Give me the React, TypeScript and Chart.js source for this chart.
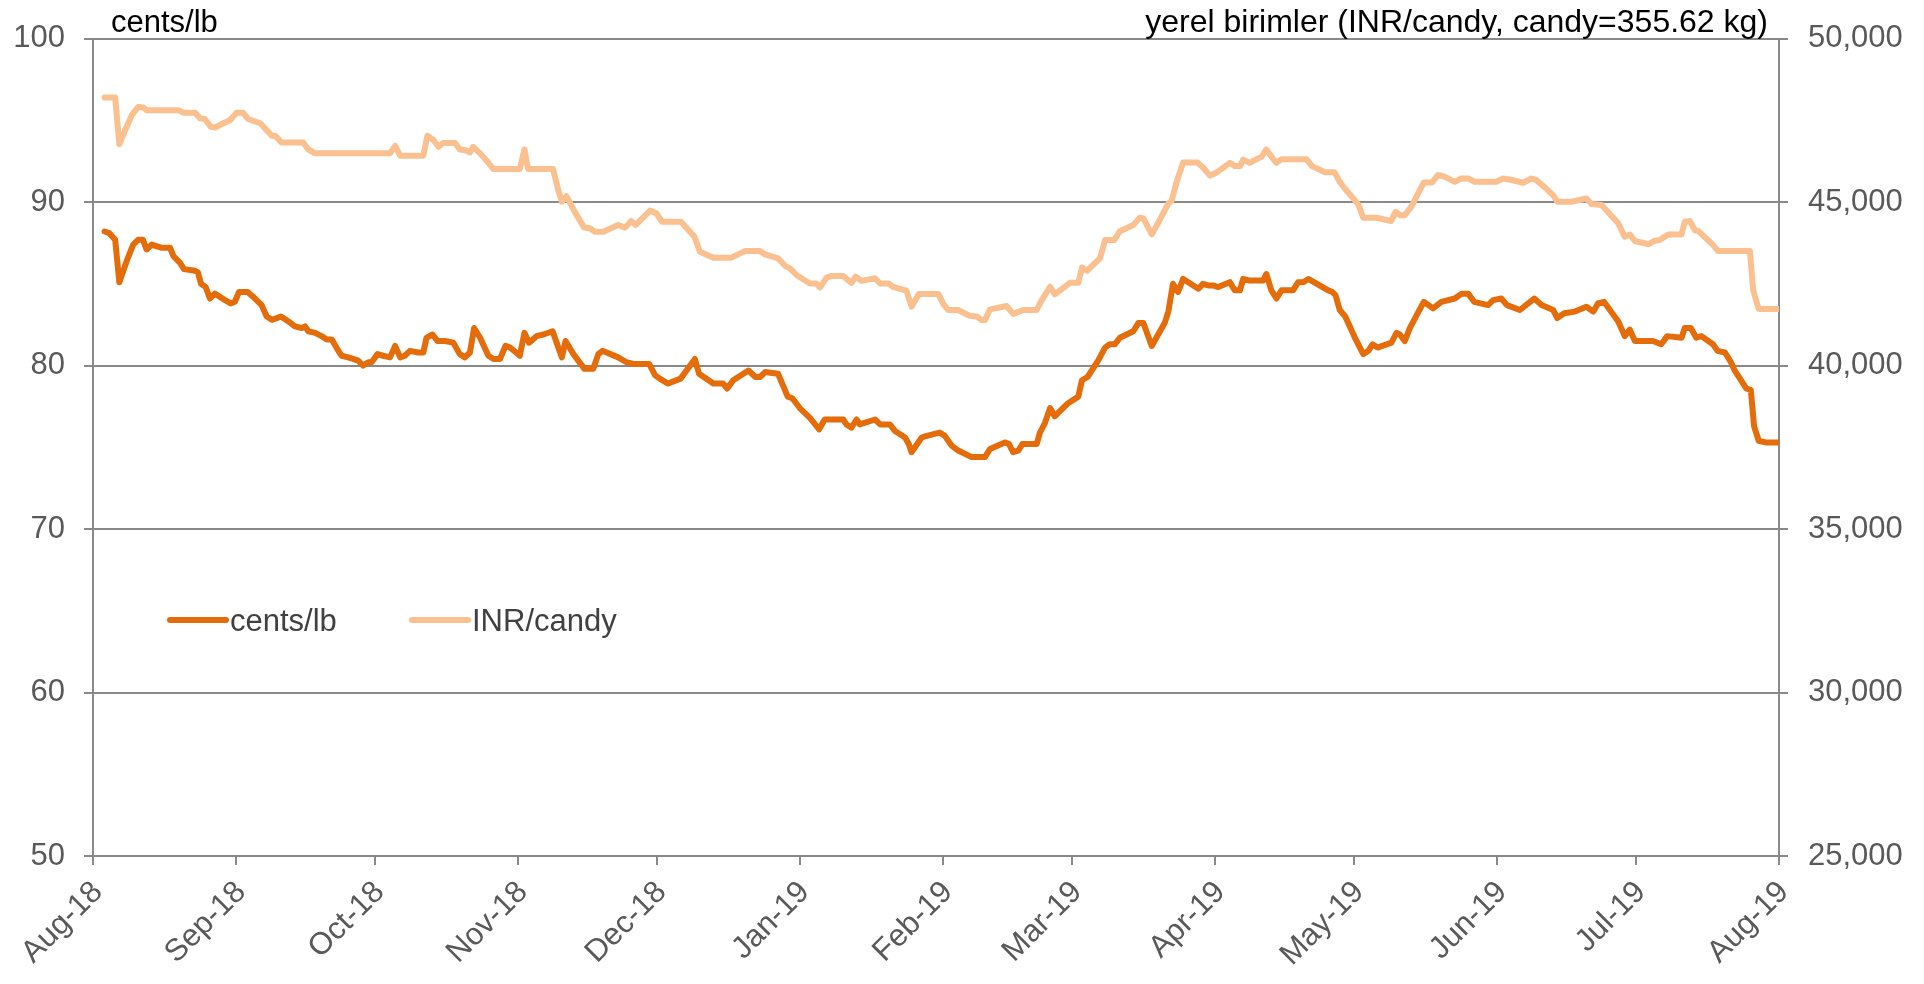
import React, { useEffect, useRef } from "react";
import { Chart, registerables } from "chart.js";

Chart.register(...registerables);

// ---- Text ----
const leftTitle = "cents/lb";
const rightTitle = "yerel birimler (INR/candy, candy=355.62 kg)";
const centsLabel = "cents/lb";
const inrLabel = "INR/candy";

// ---- X axis: month ticks (day offset from 1 Aug 2018) ----
const monthLabels = ["Aug-18", "Sep-18", "Oct-18", "Nov-18", "Dec-18", "Jan-19", "Feb-19", "Mar-19", "Apr-19", "May-19", "Jun-19", "Jul-19", "Aug-19"];
const monthDays = [0, 31, 61, 92, 122, 153, 184, 212, 243, 273, 304, 334, 365];

// ---- Left axis ticks ----
const leftMin = 50;
const leftMax = 100;
const leftStep = 10;
// ---- Right axis ticks ----
const rightMin = 25000;
const rightMax = 50000;
const rightStep = 5000;

// ---- cents/lb series (day offset, value) ----
const centsDays = [
  2.5, 3.5, 4.8, 5.7, 7.3, 8.7, 9.8, 10.8, 11.6, 12.7, 14.9, 16.7, 17.4, 18.8, 19.7, 22.1, 22.7, 23.4, 24.4, 25.3,
  26.4, 28.6, 29.8, 30.7, 31.6, 33.5, 34.7, 36.5, 37.6, 38.7, 39.8, 40.7, 42.3, 43.7, 45.2, 45.9, 46.6, 48.1, 49.5, 50.6,
  51.7, 52.7, 53.8, 55.3, 57.4, 58.5, 59.6, 60.3, 61.6, 62.8, 64.3, 65.4, 66.5, 67.5, 68.6, 70.4, 71.5, 72.2, 73.5, 74.6,
  76.2, 78.0, 79.4, 80.5, 81.6, 82.5, 83.8, 85.6, 86.7, 88.1, 89.3, 90.3, 92.4, 93.4, 94.4, 96.0, 97.5, 99.5, 101.5, 102.3,
  104.0, 106.4, 108.3, 109.4, 110.3, 113.7, 115.5, 117.0, 118.0, 120.4, 121.7, 122.7, 124.5, 127.2, 130.3, 131.2, 134.3, 136.4, 137.3, 138.6,
  141.9, 143.4, 144.4, 145.5, 148.3, 150.4, 151.4, 153.0, 155.2, 157.2, 158.4, 160.3, 162.4, 163.1, 164.2, 165.3, 166.0, 169.3, 170.4, 172.5,
  173.6, 175.8, 176.6, 177.2, 179.4, 180.5, 183.3, 184.4, 185.9, 187.3, 190.2, 193.1, 194.2, 197.4, 198.3, 199.2, 200.3, 201.2, 204.3, 205.0,
  206.1, 207.2, 208.2, 211.1, 213.3, 214.1, 215.3, 217.6, 219.1, 220.1, 221.2, 222.3, 225.2, 226.3, 227.4, 229.2, 232.0, 232.8, 233.8, 234.9,
  236.0, 239.3, 240.3, 241.4, 242.5, 243.6, 246.1, 247.2, 248.3, 249.0, 250.4, 253.3, 254.0, 255.1, 256.2, 257.3, 259.8, 260.9, 262.0, 263.1,
  267.4, 268.3, 269.0, 269.9, 271.1, 273.2, 275.0, 276.1, 277.0, 278.1, 281.1, 282.2, 282.9, 284.0, 285.1, 288.1, 290.1, 291.9, 294.8, 296.3,
  297.7, 299.0, 302.0, 303.1, 304.9, 306.1, 308.9, 312.0, 313.6, 316.1, 317.0, 318.5, 320.8, 323.3, 324.8, 325.8, 327.1, 330.2, 331.6, 332.7,
  333.8, 337.7, 339.5, 340.8, 343.9, 344.6, 345.9, 347.1, 348.2, 350.7, 351.7, 353.3, 354.6, 355.4, 357.0, 357.9, 358.9, 359.6, 360.6, 362.1,
  365.0,
];
const centsValues = [
  88.2, 88.1, 87.7, 85.1, 86.4, 87.4, 87.7, 87.7, 87.1, 87.4, 87.2, 87.2, 86.7, 86.3, 85.9, 85.8, 85.7, 85.0, 84.8, 84.1,
  84.4, 84.0, 83.8, 83.9, 84.5, 84.5, 84.2, 83.7, 83.0, 82.8, 82.9, 83.0, 82.7, 82.4, 82.3, 82.4, 82.1, 82.0, 81.8, 81.6,
  81.6, 81.1, 80.6, 80.5, 80.3, 80.0, 80.2, 80.2, 80.7, 80.6, 80.5, 81.2, 80.5, 80.6, 80.9, 80.8, 80.8, 81.7, 81.9, 81.5,
  81.5, 81.4, 80.7, 80.5, 80.8, 82.3, 81.7, 80.6, 80.4, 80.4, 81.2, 81.1, 80.6, 82.0, 81.4, 81.8, 81.9, 82.1, 80.5, 81.5,
  80.7, 79.8, 79.8, 80.7, 80.9, 80.5, 80.2, 80.1, 80.1, 80.1, 79.4, 79.2, 78.9, 79.2, 80.4, 79.5, 78.9, 78.9, 78.6, 79.1,
  79.7, 79.3, 79.3, 79.6, 79.5, 78.1, 78.0, 77.4, 76.8, 76.1, 76.7, 76.7, 76.7, 76.4, 76.2, 76.7, 76.4, 76.7, 76.4, 76.4,
  76.0, 75.6, 75.2, 74.7, 75.6, 75.7, 75.9, 75.7, 75.1, 74.8, 74.4, 74.4, 74.9, 75.3, 75.2, 74.7, 74.8, 75.2, 75.2, 75.9,
  76.5, 77.4, 76.9, 77.7, 78.1, 79.1, 79.3, 80.3, 81.1, 81.3, 81.3, 81.7, 82.1, 82.6, 82.6, 81.2, 82.6, 83.3, 85.0, 84.5,
  85.3, 84.7, 85.0, 84.9, 84.9, 84.8, 85.1, 84.6, 84.6, 85.3, 85.2, 85.2, 85.6, 84.6, 84.1, 84.6, 84.6, 85.1, 85.1, 85.3,
  84.6, 84.5, 84.3, 83.4, 83.0, 81.7, 80.7, 80.9, 81.3, 81.1, 81.4, 82.0, 81.9, 81.5, 82.3, 83.9, 83.5, 83.9, 84.1, 84.4,
  84.4, 83.9, 83.7, 84.0, 84.1, 83.7, 83.4, 84.1, 83.7, 83.4, 82.9, 83.2, 83.3, 83.6, 83.3, 83.8, 83.9, 82.7, 81.8, 82.2,
  81.5, 81.5, 81.3, 81.8, 81.7, 82.3, 82.3, 81.7, 81.8, 81.3, 80.9, 80.8, 80.2, 79.7, 79.0, 78.6, 78.5, 76.3, 75.4, 75.3,
  75.3,
];

// ---- INR/candy series (day offset, value) ----
const inrDays = [
  2.5, 4.8, 5.7, 6.9, 8.4, 9.8, 10.9, 11.6, 18.5, 19.6, 22.1, 23.2, 24.2, 25.5, 26.4, 29.7, 31.1, 32.5, 33.6, 36.2,
  37.6, 38.7, 39.5, 40.8, 45.5, 46.6, 48.1, 64.3, 65.4, 66.5, 71.5, 72.4, 73.7, 74.8, 75.8, 78.4, 79.4, 80.5, 81.6, 82.3,
  83.8, 85.6, 86.7, 92.4, 93.4, 94.2, 99.6, 100.7, 101.5, 102.5, 104.3, 106.3, 107.6, 108.7, 110.5, 113.7, 115.2, 116.5, 117.5, 120.6,
  122.0, 123.2, 127.3, 128.7, 130.2, 131.4, 134.3, 138.2, 141.1, 144.4, 145.5, 148.3, 149.8, 150.9, 152.3, 155.2, 156.6, 157.4, 158.8, 159.9,
  162.4, 164.2, 165.1, 166.4, 169.3, 170.4, 172.2, 173.2, 176.1, 177.2, 178.8, 183.0, 184.1, 185.1, 187.3, 189.8, 191.3, 192.4, 193.1, 194.2,
  197.8, 199.2, 201.4, 204.3, 205.3, 207.2, 208.2, 211.5, 213.3, 214.1, 215.2, 218.0, 219.1, 221.1, 222.3, 225.2, 226.6, 227.4, 229.2, 231.0,
  232.8, 233.5, 234.6, 236.0, 239.1, 240.3, 241.8, 243.2, 246.1, 247.2, 248.3, 249.0, 250.4, 253.0, 254.0, 255.1, 256.2, 257.3, 262.7, 263.9,
  266.7, 268.8, 269.9, 271.1, 272.4, 273.9, 275.0, 277.9, 281.0, 282.0, 282.9, 284.0, 285.4, 288.1, 289.9, 291.2, 292.7, 294.8, 296.1, 297.8,
  299.1, 303.8, 305.3, 306.7, 309.6, 311.4, 312.5, 314.3, 316.1, 317.0, 320.1, 323.3, 324.4, 326.6, 328.7, 330.2, 331.6, 332.7, 333.8, 336.7,
  338.1, 339.2, 341.0, 343.9, 344.6, 345.7, 346.8, 347.5, 349.6, 350.7, 351.8, 358.7, 359.4, 360.6, 365.0,
];
const inrValues = [
  48200, 48200, 46770, 47180, 47660, 47910, 47890, 47810, 47810, 47730, 47730, 47560, 47540, 47300, 47280, 47510, 47730, 47730, 47540, 47410,
  47200, 47030, 47020, 46820, 46820, 46610, 46490, 46490, 46720, 46420, 46420, 47030, 46900, 46690, 46810, 46810, 46610, 46590, 46520, 46690,
  46490, 46200, 46010, 46010, 46610, 46010, 46010, 45370, 45010, 45180, 44700, 44220, 44200, 44090, 44090, 44300, 44220, 44420, 44300, 44740,
  44650, 44400, 44400, 44180, 43940, 43480, 43300, 43300, 43500, 43500, 43400, 43280, 43050, 42970, 42770, 42510, 42510, 42390, 42690, 42740,
  42740, 42530, 42720, 42590, 42670, 42510, 42510, 42410, 42290, 41800, 42190, 42190, 41880, 41700, 41700, 41520, 41500, 41390, 41390, 41720,
  41820, 41580, 41700, 41700, 41980, 42410, 42180, 42530, 42530, 43000, 42900, 43280, 43840, 43840, 44110, 44300, 44520, 44500, 44010, 44470,
  44960, 45030, 45620, 46210, 46210, 46060, 45810, 45900, 46200, 46100, 46100, 46300, 46200, 46390, 46610, 46390, 46200, 46310, 46310, 46100,
  45910, 45910, 45620, 45400, 45180, 44930, 44520, 44520, 44420, 44700, 44600, 44600, 44860, 45600, 45600, 45830, 45770, 45620, 45720, 45720,
  45620, 45620, 45720, 45690, 45590, 45720, 45670, 45450, 45210, 45010, 45010, 45110, 44940, 44910, 44580, 44350, 43940, 44010, 43810, 43710,
  43820, 43840, 44010, 44010, 44400, 44420, 44140, 44120, 43840, 43690, 43500, 43500, 42310, 41730, 41730,
];

const FONT = "'Liberation Sans', Arial, Helvetica, sans-serif";
const DARK = "#E46C0A";
const LIGHT = "#FAC090";
const GRID = "#898989";
const TICK_COLOR = "#595959";

export default function App() {
  const ref = useRef<HTMLCanvasElement | null>(null);

  useEffect(() => {
    if (!ref.current) return;

    const titlesPlugin = {
      id: "cornerTitles",
      afterDraw(chart: any) {
        const { ctx, chartArea } = chart;
        ctx.save();
        ctx.fillStyle = "#000000";
        ctx.textBaseline = "alphabetic";
        ctx.font = `31px ${FONT}`;
        ctx.textAlign = "left";
        ctx.fillText(leftTitle, chartArea.left + 18, 32);
        ctx.font = `32px ${FONT}`;
        ctx.textAlign = "right";
        ctx.fillText(rightTitle, chartArea.right - 11, 32);
        ctx.restore();
      },
    };

    const legendPlugin = {
      id: "insideLegend",
      afterDraw(chart: any) {
        const { ctx, chartArea } = chart;
        const offsets = [77, 319];
        const y = 620;
        ctx.save();
        chart.data.datasets.forEach((ds: any, i: number) => {
          const x0 = chartArea.left + offsets[i];
          ctx.strokeStyle = ds.borderColor;
          ctx.lineWidth = 6;
          ctx.lineCap = "round";
          ctx.beginPath();
          ctx.moveTo(x0, y);
          ctx.lineTo(x0 + 56, y);
          ctx.stroke();
          ctx.fillStyle = "#404040";
          ctx.font = `31px ${FONT}`;
          ctx.textAlign = "left";
          ctx.textBaseline = "alphabetic";
          ctx.fillText(ds.label, x0 + 60, y + 11);
        });
        ctx.restore();
      },
    };

    const chart = new Chart(ref.current, {
      type: "line",
      data: {
        datasets: [
          {
            label: centsLabel,
            data: centsDays.map((d, i) => ({ x: d, y: centsValues[i] })),
            borderColor: DARK,
            backgroundColor: DARK,
            borderWidth: 6,
            pointRadius: 0,
            tension: 0,
            borderJoinStyle: "round",
            borderCapStyle: "round",
            yAxisID: "y",
          },
          {
            label: inrLabel,
            data: inrDays.map((d, i) => ({ x: d, y: inrValues[i] })),
            borderColor: LIGHT,
            backgroundColor: LIGHT,
            borderWidth: 6,
            pointRadius: 0,
            tension: 0,
            borderJoinStyle: "round",
            borderCapStyle: "round",
            yAxisID: "y1",
          },
        ],
      },
      options: {
        responsive: false,
        animation: false,
        events: [],
        layout: { padding: { top: 38, left: 0, right: 0, bottom: 0 } },
        plugins: {
          legend: { display: false },
          tooltip: { enabled: false },
          title: { display: false },
        },
        scales: {
          x: {
            type: "linear",
            min: monthDays[0],
            max: monthDays[monthDays.length - 1],
            afterBuildTicks: (scale: any) => {
              scale.ticks = monthDays.map((v) => ({ value: v }));
            },
            afterFit: (scale: any) => {
              scale.height = 128;
            },
            ticks: {
              autoSkip: false,
              minRotation: 45,
              maxRotation: 45,
              padding: 9,
              labelOffset: 5,
              color: TICK_COLOR,
              font: { size: 31, family: FONT },
              callback: (v: any) => {
                const idx = monthDays.indexOf(Number(v));
                return idx >= 0 ? monthLabels[idx] : "";
              },
            },
            grid: {
              drawOnChartArea: false,
              drawTicks: true,
              tickLength: 9,
              color: GRID,
              lineWidth: 2,
            },
            border: { display: true, color: GRID, width: 2 },
          },
          y: {
            position: "left",
            min: leftMin,
            max: leftMax,
            afterFit: (scale: any) => {
              scale.width = 93;
            },
            ticks: {
              stepSize: leftStep,
              padding: 19,
              color: TICK_COLOR,
              font: { size: 31, family: FONT },
            },
            grid: { color: GRID, lineWidth: 2, tickLength: 9, drawTicks: true },
            border: { display: true, color: GRID, width: 2 },
          },
          y1: {
            position: "right",
            min: rightMin,
            max: rightMax,
            afterFit: (scale: any) => {
              scale.width = 1924 - 1779;
            },
            ticks: {
              stepSize: rightStep,
              padding: 20,
              color: TICK_COLOR,
              font: { size: 31, family: FONT },
              callback: (v: any) => Number(v).toLocaleString("en-US"),
            },
            grid: { drawOnChartArea: false, color: GRID, lineWidth: 2, tickLength: 9, drawTicks: true },
            border: { display: true, color: GRID, width: 2 },
          },
        },
      } as any,
      plugins: [titlesPlugin, legendPlugin],
    });

    return () => {
      chart.destroy();
    };
  }, []);

  return (
    <div style={{ position: "fixed", left: 0, top: 0, width: 1924, height: 984, background: "#ffffff" }}>
      <canvas ref={ref} width={1924} height={984} style={{ display: "block", width: 1924, height: 984 }} />
    </div>
  );
}
